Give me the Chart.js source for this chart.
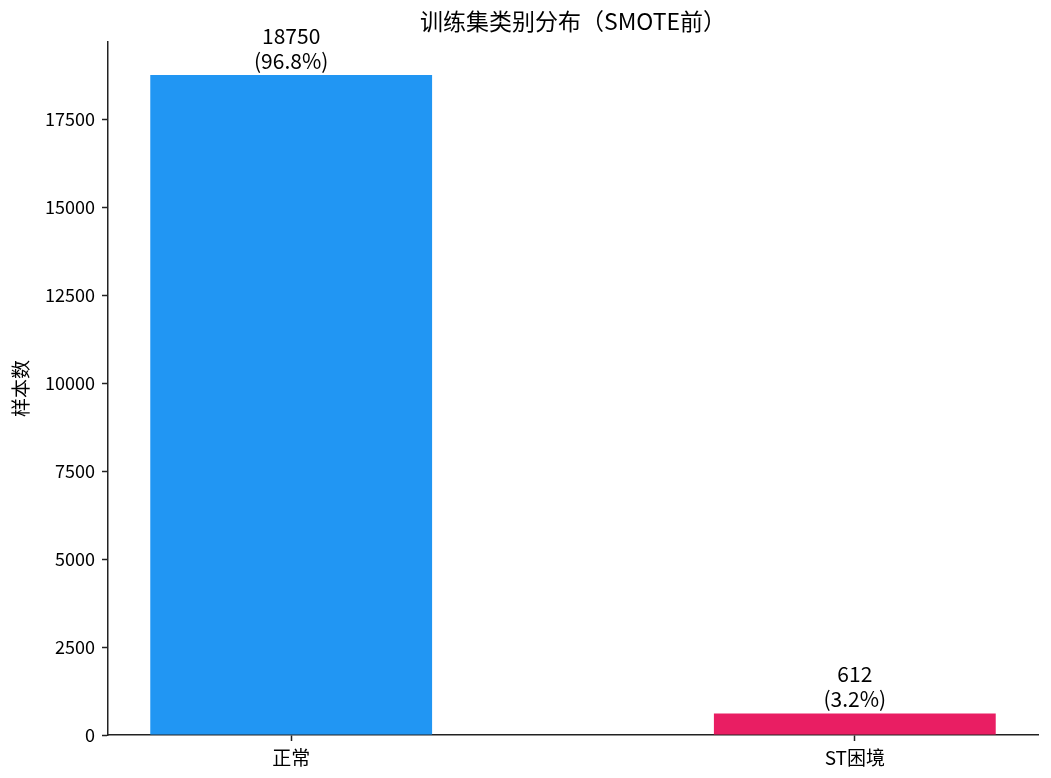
<!DOCTYPE html>
<html>
<head>
<meta charset="utf-8">
<script src="https://cdn.jsdelivr.net/npm/chart.js@4"></script>
<style>
html,body{margin:0;padding:0;background:#fff;}
#wrap{width:1051px;height:778px;}
</style>
</head>
<body>
<div id="wrap"><canvas id="c" width="1051" height="778"></canvas></div>
<script>
const categories = ['正常', 'ST困境'];
const counts = [18750, 612];
const barColors = ['#2196F3', '#E91E63'];
const yTicks = [0, 2500, 5000, 7500, 10000, 12500, 15000, 17500];
const titleText = '训练集类别分布（SMOTE前）';
const yLabel = '样本数';

const FONT = '"Noto Sans CJK SC", "DejaVu Sans", sans-serif';
const total = counts.reduce((a, b) => a + b, 0);
const points = counts.map((v, i) => ({ x: i, y: v }));

const labelPlugin = {
  id: 'barLabels',
  afterDatasetsDraw(chart) {
    const ctx = chart.ctx;
    const meta = chart.getDatasetMeta(0);
    const area = chart.chartArea;
    ctx.save();
    ctx.fillStyle = '#000';
    ctx.textAlign = 'center';
    ctx.textBaseline = 'middle';
    // title centred over the axes, like matplotlib
    ctx.font = '23px ' + FONT;
    ctx.fillText(titleText, (area.left + area.right) / 2, 21);
    ctx.font = '21px ' + FONT;
    meta.data.forEach((bar, i) => {
      const v = counts[i];
      const pct = (v / total * 100).toFixed(1);
      ctx.fillText('(' + pct + '%)', bar.x, bar.y - 14);
      ctx.fillText(String(v), bar.x, bar.y - 39);
    });
    ctx.restore();
  }
};

new Chart(document.getElementById('c'), {
  type: 'bar',
  data: {
    datasets: [{
      data: points,
      backgroundColor: barColors,
      borderWidth: 0,
      barPercentage: 0.5,
      categoryPercentage: 1.0
    }]
  },
  options: {
    responsive: false,
    animation: false,
    devicePixelRatio: 1,
    layout: { padding: { left: 0, right: 13, top: 42, bottom: 0 } },
    plugins: {
      legend: { display: false },
      tooltip: { enabled: false },
      title: { display: false }
    },
    scales: {
      x: {
        type: 'linear',
        min: -0.325,
        max: 1.325,
        offset: false,
        afterBuildTicks(scale) { scale.ticks = categories.map((c, i) => ({ value: i })); },
        afterFit(scale) { scale.height = 43; },
        ticks: {
          color: '#000',
          font: { family: FONT, size: 19 },
          padding: 5,
          maxRotation: 0,
          autoSkip: false,
          callback: (v) => categories[v]
        },
        grid: { offset: false, drawOnChartArea: false, drawTicks: true, tickLength: 6, tickColor: '#222', tickWidth: 1.5 },
        border: { display: true, color: '#222', width: 1.5 }
      },
      y: {
        type: 'linear',
        min: 0,
        max: 19687.5,
        afterBuildTicks(scale) { scale.ticks = yTicks.map(v => ({ value: v })); },
        afterFit(scale) { scale.width = 108; },
        ticks: {
          color: '#000',
          font: { family: FONT, size: 18 },
          padding: 7,
          callback: (v) => String(v)
        },
        title: {
          display: true,
          text: yLabel,
          color: '#000',
          font: { family: FONT, size: 19 },
          padding: { top: 9, bottom: 0 }
        },
        grid: { offset: false, drawOnChartArea: false, drawTicks: true, tickLength: 6, tickColor: '#222', tickWidth: 1.5 },
        border: { display: true, color: '#222', width: 1.5 }
      }
    }
  },
  plugins: [labelPlugin]
});
</script>
</body>
</html>
